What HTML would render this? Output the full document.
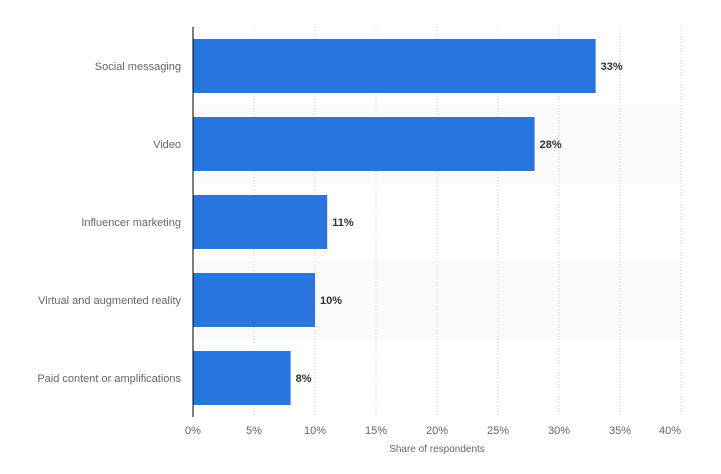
<!DOCTYPE html>
<html><head><meta charset="utf-8"><style>
body{margin:0;background:#fff;font-family:"Liberation Sans",Arial,sans-serif}
svg text{font-family:"Liberation Sans",Arial,sans-serif}
</style></head><body>
<svg id="chart" width="721" height="469" xmlns="http://www.w3.org/2000/svg"></svg>
<script>
const categories=["Social messaging","Video","Influencer marketing","Virtual and augmented reality","Paid content or amplifications"];
const values=[33,28,11,10,8];
const ticks=[0,5,10,15,20,25,30,35,40];
const tickLabels=["0%","5%","10%","15%","20%","25%","30%","35%","40%"];
const svgEl=document.getElementById('chart');
const NS="http://www.w3.org/2000/svg";
const x0=193,x1=681,plotTop=27,plotBottom=417,xmax=40;
const band=(plotBottom-plotTop)/categories.length;
const xs=v=>x0+(x1-x0)*v/xmax;
function mk(t,a,txt){const e=document.createElementNS(NS,t);for(const k in a)e.setAttribute(k,a[k]);if(txt!==undefined)e.textContent=txt;svgEl.appendChild(e);return e;}
categories.forEach((c,i)=>{if(i%2==1){const r=mk('rect',{x:x0,y:plotTop+band*i,width:x1-x0,height:band,fill:'#fafafa'});

}});
ticks.forEach((t,i)=>{if(t>0){const l=mk('line',{x1:xs(t),x2:xs(t),y1:plotTop,y2:plotBottom,stroke:'#ccc','stroke-dasharray':'1,2'});

}
const anchor=i==ticks.length-1?'end':'middle';
const lb=mk('text',{x:xs(t),y:434,'text-anchor':anchor,'font-size':11,fill:'#666'},tickLabels[i]);

});
categories.forEach((c,i)=>{const y=plotTop+band*i;
const b=mk('rect',{x:x0,y:y+12,width:xs(values[i])-x0,height:band-24,fill:'#2876dd'});


const v=mk('text',{x:xs(values[i])+5,y:y+band/2+4,'font-size':11,'font-weight':'bold',fill:'#333'},values[i]+'%');


const cl=mk('text',{x:181,y:y+band/2+4,'text-anchor':'end','font-size':11,fill:'#666'},c);

});
const ax=mk('line',{x1:x0,x2:x0,y1:plotTop,y2:plotBottom,stroke:'#000','stroke-width':1});


const tt=mk('text',{x:437,y:452,'text-anchor':'middle','font-size':10,fill:'#666'},'Share of respondents');


</script>
</body></html>
